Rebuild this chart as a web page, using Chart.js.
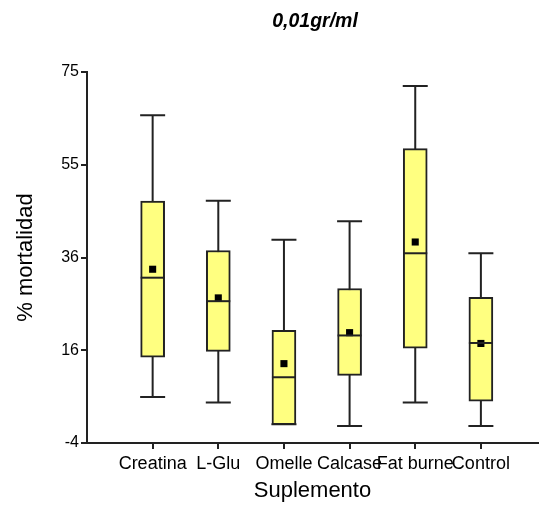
<!DOCTYPE html>
<html>
<head>
<meta charset="utf-8">
<script src="https://cdn.jsdelivr.net/npm/chart.js@4/dist/chart.umd.min.js"></script>
<style>
  html, body { margin: 0; padding: 0; background: #fff; }
  #wrap { width: 543px; height: 508px; position: relative; }
</style>
</head>
<body>
<div id="wrap"><canvas id="boxChart"></canvas></div>
<script>
// ── DATA ────────────────────────────────────────
const categories = ["Creatina", "L-Glu", "Omelle", "Calcase", "Fat burne", "Control"];
const mins    = [5.8, 4.6, 0.0, -0.4, 4.6, -0.4];
const q1s     = [14.3, 15.5, -0.1, 10.4, 16.2, 4.9];
const medians = [31.2, 26.2, 10.0, 18.9, 36.4, 17.3];
const q3s     = [47.5, 37.0, 20.0, 28.9, 58.7, 27.0];
const maxs    = [65.8, 47.6, 39.3, 43.2, 72.0, 36.4];
const means   = [33.0, 26.9, 12.9, 19.5, 38.8, 17.2];
const yTicks  = [-4, 15.75, 35.5, 55.25, 75];

const FONT = "'Liberation Sans', Arial, sans-serif";
const INK = "#222";

// ── WHISKERS + MEDIANS ──────────────────────────
const boxExtras = {
  id: "boxExtras",
  beforeDatasetsDraw(chart) {
    const { ctx, scales: { x, y } } = chart;
    ctx.save();
    ctx.strokeStyle = INK;
    ctx.lineWidth = 2;
    categories.forEach((c, i) => {
      const px = x.getPixelForValue(i + 1);
      ctx.beginPath();
      ctx.moveTo(px, y.getPixelForValue(mins[i]));
      ctx.lineTo(px, y.getPixelForValue(maxs[i]));
      [mins[i], maxs[i]].forEach(v => {
        const py = y.getPixelForValue(v);
        ctx.moveTo(px - 12.5, py);
        ctx.lineTo(px + 12.5, py);
      });
      ctx.stroke();
    });
    ctx.restore();
  },
  afterDatasetsDraw(chart) {
    const { ctx, scales: { x, y } } = chart;
    ctx.save();
    ctx.strokeStyle = INK;
    ctx.lineWidth = 2;
    categories.forEach((c, i) => {
      const px = x.getPixelForValue(i + 1);
      const py = y.getPixelForValue(medians[i]);
      ctx.beginPath();
      ctx.moveTo(px - 12, py);
      ctx.lineTo(px + 12, py);
      ctx.stroke();
    });
    ctx.restore();
  },
  afterDraw(chart) {
    // plot title, centred over the plot area
    const { ctx, chartArea } = chart;
    ctx.save();
    ctx.font = "italic bold 19.5px " + FONT;
    ctx.fillStyle = "#000";
    ctx.textAlign = "center";
    ctx.textBaseline = "middle";
    ctx.fillText("0,01gr/ml", 315, 22);
    ctx.restore();
  }
};

new Chart(document.getElementById("boxChart"), {
  type: "bar",
  data: {
    datasets: [
      {
        label: "box",
        order: 2,
        data: categories.map((c, i) => ({ x: i + 1, y: [q1s[i], q3s[i]] })),
        backgroundColor: "#ffff80",
        borderColor: INK,
        borderWidth: 2,
        borderSkipped: false,
        barThickness: 24
      },
      {
        type: "scatter",
        label: "mean",
        order: 1,
        data: categories.map((c, i) => ({ x: i + 1, y: means[i] })),
        pointStyle: "rect",
        radius: 5,
        backgroundColor: "#000",
        borderColor: "#000",
        borderWidth: 0
      }
    ]
  },
  options: {
    responsive: true,
    maintainAspectRatio: false,
    animation: false,
    layout: { padding: { top: 72, right: -4, left: 0, bottom: 0 } },
    plugins: {
      legend: { display: false },
      tooltip: { enabled: false }
    },
    scales: {
      x: {
        type: "linear",
        offset: false,
        min: 0,
        max: 6.87,
        afterBuildTicks: axis => { axis.ticks = categories.map((c, i) => ({ value: i + 1 })); },
        afterFit: axis => { axis.height = 65; },
        ticks: {
          autoSkip: false,
          maxRotation: 0,
          padding: 4,
          color: "#000",
          font: { family: FONT, size: 18 },
          callback: (v) => categories[v - 1]
        },
        grid: { offset: false, drawOnChartArea: false, drawTicks: true, tickLength: 6, color: INK, lineWidth: 2 },
        border: { display: true, color: INK, width: 2 },
        title: { display: true, text: "Suplemento", color: "#000", font: { family: FONT, size: 22 }, padding: { top: 2 } }
      },
      y: {
        min: -4,
        max: 75,
        afterBuildTicks: axis => { axis.ticks = yTicks.map(v => ({ value: v })); },
        afterFit: axis => { axis.width = 87; },
        ticks: {
          padding: 2,
          color: "#000",
          font: { family: FONT, size: 16 },
          callback: v => Math.round(v)
        },
        grid: { drawOnChartArea: false, drawTicks: true, tickLength: 6, color: INK, lineWidth: 2 },
        border: { display: true, color: INK, width: 2 },
        title: { display: true, text: "% mortalidad", color: "#000", font: { family: FONT, size: 22 }, padding: { top: 13 } }
      }
    }
  },
  plugins: [boxExtras]
});
</script>
</body>
</html>
